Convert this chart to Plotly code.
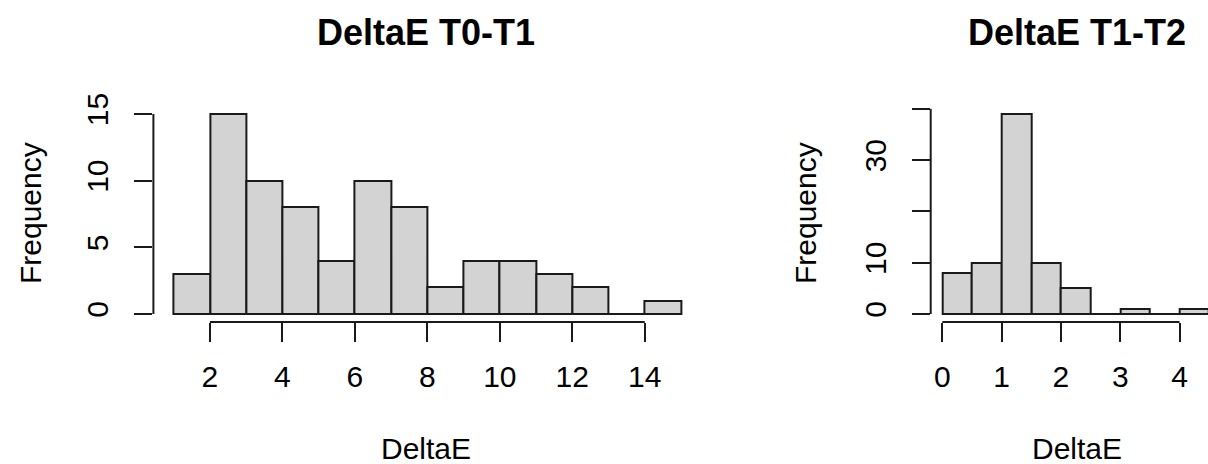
import plotly.graph_objects as go

# ---- data ----
edges_t0t1 = [1, 2, 3, 4, 5, 6, 7, 8, 9, 10, 11, 12, 13, 14, 15]
counts_t0t1 = [3, 15, 10, 8, 4, 10, 8, 2, 4, 4, 3, 2, 0, 1]
xticks_t0t1 = [2, 4, 6, 8, 10, 12, 14]
yticks_t0t1 = [0, 5, 10, 15]
yticktext_t0t1 = ["0", "5", "10", "15"]

edges_t1t2 = [0, 0.5, 1, 1.5, 2, 2.5, 3, 3.5, 4, 4.5]
counts_t1t2 = [8, 10, 39, 10, 5, 0, 1, 0, 1]
xticks_t1t2 = [0, 1, 2, 3, 4]
yticks_t1t2 = [0, 10, 20, 30, 40]
yticktext_t1t2 = ["0", "10", "", "30", ""]

titles = ["DeltaE T0-T1", "DeltaE T1-T2"]
xlabel = "DeltaE"
ylabel = "Frequency"

W, H = 1208, 464
FONT = "Liberation Sans, Arial, sans-serif"
LINE = "#1a1a1a"
FILL = "#D3D3D3"
LW = 2

fig = go.Figure()

panels = [
    dict(edges=edges_t0t1, counts=counts_t0t1, xt=xticks_t0t1, yt=yticks_t0t1, ytt=yticktext_t0t1,
         dom=[153.4 / W, 701.3 / W], xr=[0.44, 15.56], yr=[-0.6, 15.6], cx=426, fx=30),
    dict(edges=edges_t1t2, counts=counts_t1t2, xt=xticks_t1t2, yt=yticks_t1t2, ytt=yticktext_t1t2,
         dom=[930.7 / W, 1.0], xr=[-0.196, 4.48], yr=[-1.56, 40.56], cx=1077, fx=805),
]

ydom = [(H - 322) / H, (H - 106) / H]

for i, p in enumerate(panels):
    n = i + 1
    xa = "x" if n == 1 else f"x{n}"
    ya = "y" if n == 1 else f"y{n}"
    e = p["edges"]
    mids = [(e[k] + e[k + 1]) / 2 for k in range(len(e) - 1)]
    widths = [e[k + 1] - e[k] for k in range(len(e) - 1)]
    fig.add_trace(go.Bar(x=mids, y=p["counts"], width=widths, xaxis=xa, yaxis=ya,
                         marker=dict(color=FILL, line=dict(color=LINE, width=LW)),
                         showlegend=False, hoverinfo="x+y"))
    # baseline of the histogram (zero-height bins still have an outline)
    fig.add_trace(go.Scatter(x=[e[0], e[-1]], y=[0, 0], mode="lines", xaxis=xa, yaxis=ya,
                             line=dict(color=LINE, width=LW), showlegend=False, hoverinfo="skip"))
    axx = dict(domain=p["dom"], range=p["xr"], anchor=ya, showgrid=False, zeroline=False,
               showline=False, ticks="outside", ticklen=19, tickwidth=LW, tickcolor=LINE,
               tickvals=p["xt"], ticktext=[str(v) for v in p["xt"]], automargin=False,
               tickfont=dict(family=FONT, size=30, color="black"), ticklabelstandoff=9)
    axy = dict(domain=ydom, range=p["yr"], anchor=xa, showgrid=False, zeroline=False,
               showline=False, ticks="outside", ticklen=18, tickwidth=LW, tickcolor=LINE,
               tickvals=p["yt"], ticktext=p["ytt"], tickangle=-90, automargin=False,
               tickfont=dict(family=FONT, size=30, color="black"), ticklabelstandoff=14)
    fig.layout["xaxis" if n == 1 else f"xaxis{n}"] = axx
    fig.layout["yaxis" if n == 1 else f"yaxis{n}"] = axy
    # R-style partial axis lines (first to last tick)
    fig.add_shape(type="line", xref=f"{xa} domain", yref=ya, x0=0, x1=0,
                  y0=p["yt"][0], y1=p["yt"][-1], line=dict(color=LINE, width=LW))
    fig.add_shape(type="line", xref=xa, yref=f"{ya} domain", y0=0, y1=0,
                  x0=p["xt"][0], x1=p["xt"][-1], line=dict(color=LINE, width=LW))
    # titles and axis labels
    fig.add_annotation(text=f"<b>{titles[i]}</b>", xref="paper", yref="paper",
                       x=p["cx"] / W, y=(H - 32) / H, xanchor="center", yanchor="middle",
                       showarrow=False, font=dict(family=FONT, size=36, color="black"))
    fig.add_annotation(text=xlabel, xref="paper", yref="paper",
                       x=p["cx"] / W, y=(H - 448) / H, xanchor="center", yanchor="middle",
                       showarrow=False, font=dict(family=FONT, size=30, color="black"))
    fig.add_annotation(text=ylabel, xref="paper", yref="paper", textangle=-90,
                       x=p["fx"] / W, y=(H - 213) / H, xanchor="center", yanchor="middle",
                       showarrow=False, font=dict(family=FONT, size=30, color="black"))

fig.update_layout(width=W, height=H, margin=dict(l=0, r=0, t=0, b=0, autoexpand=False),
                  paper_bgcolor="white", plot_bgcolor="white", bargap=0)

fig.write_html("out.html", config={"displayModeBar": False},
               post_script="document.body.style.margin='0';document.body.style.padding='0';")
